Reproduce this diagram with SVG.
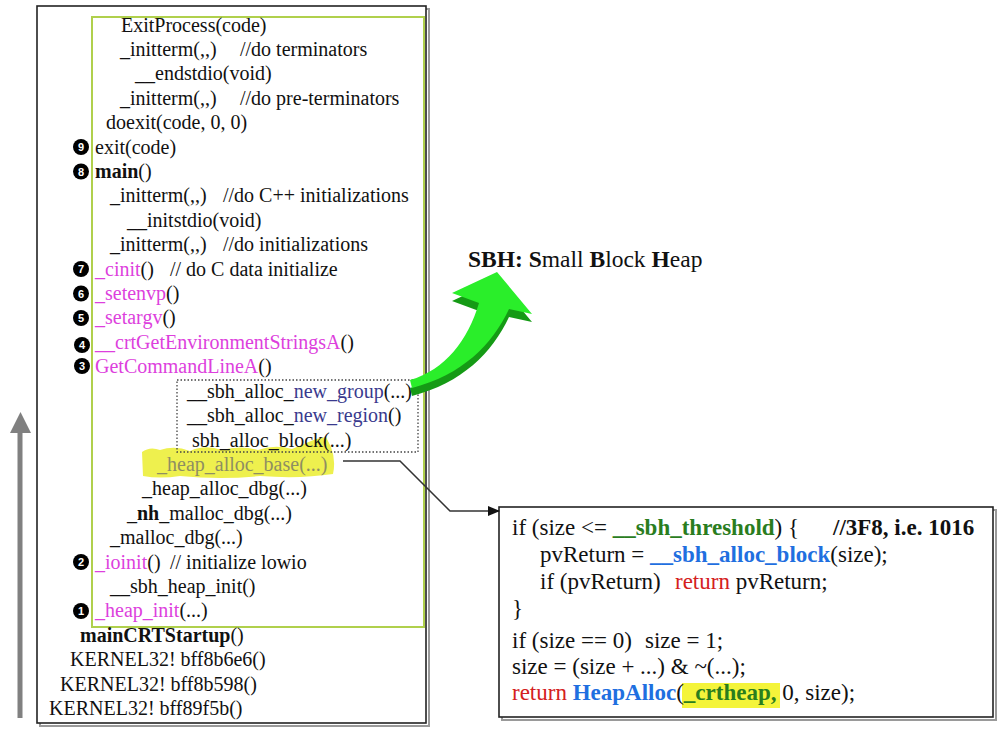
<svg xmlns="http://www.w3.org/2000/svg" width="1007" height="730" viewBox="0 0 1007 730">
  <style>
    text { font-family: "Liberation Serif", "Times New Roman", serif; font-size: 20px; fill: #111; }
    .code text { font-size: 23px; }
    .mag { fill: #dd3fdd; }
    .navy { fill: #3a3a8e; }
    .b { font-weight: bold; }
    .grn { fill: #2a7d1e; font-weight: bold; }
    .blu { fill: #1f6fe0; font-weight: bold; }
    .red { fill: #d42020; }
    .badge circle { fill: #000; }
    .badge text { fill: #fff; font-family: "Liberation Sans", Arial, sans-serif; font-size: 11px; font-weight: bold; text-anchor: middle; }
    .shadow { fill: none; stroke: #9a9a9a; stroke-width: 2; }
    .frame { fill: #fff; stroke: #222; stroke-width: 1.6; }
  </style>
  <defs>
    <marker id="arrowhead" markerWidth="12" markerHeight="10" refX="11" refY="5" orient="auto" markerUnits="userSpaceOnUse">
      <path d="M0,0 L12,5 L0,10 Z" fill="#111"/>
    </marker>
  </defs>

  <!-- call stack panel -->
  <g id="stack-box">
    <rect class="shadow" x="40" y="9" width="389" height="717"/>
    <rect class="frame" x="37" y="6" width="389" height="717"/>
    <rect x="92" y="17" width="332" height="610" fill="none" stroke="#b0d04c" stroke-width="2"/>

    <text x="121" y="31.5">ExitProcess(code)</text>
    <text y="55.9"><tspan x="120">_initterm(,,)</tspan><tspan x="240">//do terminators</tspan></text>
    <text x="135" y="80.3">__endstdio(void)</text>
    <text y="104.7"><tspan x="120">_initterm(,,)</tspan><tspan x="240">//do pre-terminators</tspan></text>
    <text x="106" y="129.1">doexit(code, 0, 0)</text>
    <text x="95" y="153.6">exit(code)</text>
    <text x="95" y="178"><tspan class="b">main</tspan>()</text>
    <text y="202.4"><tspan x="110">_initterm(,,)</tspan><tspan x="223">//do C++ initializations</tspan></text>
    <text x="127" y="226.8">__initstdio(void)</text>
    <text y="251.2"><tspan x="110">_initterm(,,)</tspan><tspan x="223">//do initializations</tspan></text>
    <text y="275.6"><tspan x="95" class="mag">_cinit</tspan>()<tspan x="170">// do C data initialize</tspan></text>
    <text x="95" y="300"><tspan class="mag">_setenvp</tspan>()</text>
    <text x="95" y="324.4"><tspan class="mag">_setargv</tspan>()</text>
    <text x="95" y="348.8"><tspan class="mag">__crtGetEnvironmentStringsA</tspan>()</text>
    <text x="95" y="373.2"><tspan class="mag">GetCommandLineA</tspan>()</text>

    <!-- highlighted frame -->
    <path d="M142,452 Q150,446 160,450 Q175,445 190,451 Q205,444 222,450 Q240,445 258,450 Q275,444 292,449 Q306,443 316,439 L326,437 L331,447 Q336,460 333,474 Q300,479 260,476 Q220,480 180,476 Q160,479 143,476 Z" fill="#eef04e"/>
    <text x="157" y="470.9" style="fill:#8e8e62">_heap_alloc_base(...)</text>
    <text x="142" y="495.3">_heap_alloc_dbg(...)</text>
    <text x="127" y="519.7">_<tspan class="b">nh</tspan>_malloc_dbg(...)</text>
    <text x="110" y="544.1">_malloc_dbg(...)</text>
    <text y="568.5"><tspan x="95" class="mag">_ioinit</tspan>()<tspan x="170">// initialize lowio</tspan></text>
    <text x="110" y="592.9">__sbh_heap_init()</text>
    <text x="95" y="617.3"><tspan class="mag">_heap_init</tspan>(...)</text>
    <text x="80" y="641.8"><tspan class="b">mainCRTStartup</tspan>()</text>
    <text x="70" y="666.2">KERNEL32! bff8b6e6()</text>
    <text x="60" y="690.6">KERNEL32! bff8b598()</text>
    <text x="49" y="715">KERNEL32! bff89f5b()</text>

    <!-- step badges -->
    <g class="badge">
      <circle cx="81" cy="147" r="8"/><text x="81" y="151">9</text>
      <circle cx="81" cy="171.5" r="8"/><text x="81" y="175.5">8</text>
      <circle cx="81" cy="269" r="8"/><text x="81" y="273">7</text>
      <circle cx="81" cy="293.5" r="8"/><text x="81" y="297.5">6</text>
      <circle cx="81" cy="318" r="8"/><text x="81" y="322">5</text>
      <circle cx="82" cy="345" r="8"/><text x="82" y="349">4</text>
      <circle cx="82" cy="366" r="8"/><text x="82" y="370">3</text>
      <circle cx="81" cy="562" r="8"/><text x="81" y="566">2</text>
      <circle cx="81" cy="611" r="8"/><text x="81" y="615">1</text>
    </g>
  </g>

  <!-- small block heap helpers -->
  <g id="sbh-group">
    <rect x="177" y="380" width="241" height="72" fill="none" stroke="#444" stroke-width="1.3" stroke-dasharray="1.5,2"/>
    <text x="187" y="397.7">__sbh_alloc_<tspan class="navy">new_group</tspan>(...)</text>
    <text x="187" y="422.1">__sbh_alloc_<tspan class="navy">new_region</tspan>()</text>
    <text x="192" y="446.5">sbh_alloc_block(...)</text>
  </g>

  <!-- title -->
  <g id="sbh-label">
    <text x="468" y="267" style="font-size:23.5px"><tspan class="b">SBH: S</tspan>mall <tspan class="b">B</tspan>lock <tspan class="b">H</tspan>eap</text>
  </g>

  <!-- curved 3D arrow -->
  <g id="sbh-arrow">
    <path transform="translate(0,8)" d="M497,272 L532,314 L509,309 C492,345 462,375 412,388 L410,380 C445,370 468,340 479,303 L452,293 Z" fill="#159a15"/>
    <path d="M497,272 L532,314 L509,309 C492,345 462,375 412,388 L410,380 C445,370 468,340 479,303 L452,293 Z" fill="#2aee2a"/>
  </g>

  <!-- _heap_alloc_base body -->
  <g id="code-box" class="code">
    <rect class="shadow" x="502" y="510" width="494" height="210"/>
    <rect class="frame" x="499" y="507" width="494" height="210"/>
    <rect x="682" y="683" width="98" height="25" fill="#f4f43a"/>
    <text x="512" y="535">if (size &lt;= <tspan class="grn">__sbh_threshold</tspan>) {<tspan x="833" class="b">//3F8, i.e. 1016</tspan></text>
    <text x="540" y="562">pvReturn = <tspan class="blu">__sbh_alloc_block</tspan>(size);</text>
    <text y="589"><tspan x="540">if (pvReturn)</tspan><tspan x="675" class="red">return</tspan> pvReturn;</text>
    <text x="512" y="616">}</text>
    <text y="648"><tspan x="512">if (size == 0)</tspan><tspan x="645">size = 1;</tspan></text>
    <text x="512" y="674">size = (size + ...) &amp; ~(...);</text>
    <text x="512" y="700"><tspan class="red">return</tspan> <tspan class="blu">HeapAlloc</tspan>(<tspan class="grn">_crtheap,</tspan> 0, size);</text>
  </g>

  <!-- connectors -->
  <g id="connectors">
    <polyline points="343,461 400,461 450,511 499,511" fill="none" stroke="#333" stroke-width="1.5" marker-end="url(#arrowhead)"/>
    <line x1="20" y1="718" x2="20" y2="430" stroke="#808080" stroke-width="5"/>
    <polygon points="20.5,412 31,433 10,433" fill="#808080"/>
  </g>
</svg>
